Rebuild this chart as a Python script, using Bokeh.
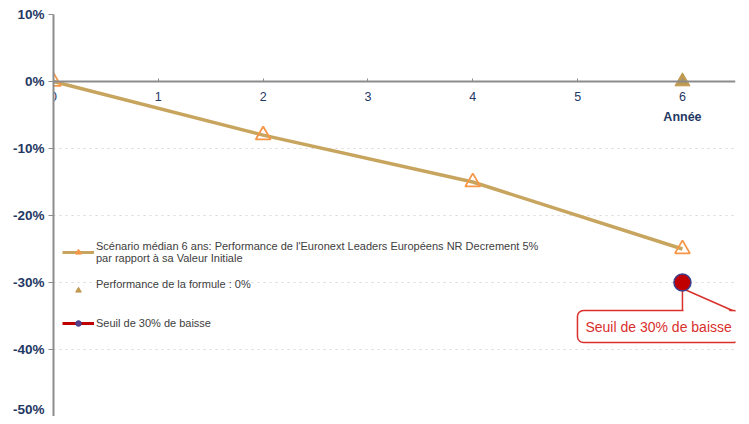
from bokeh.plotting import figure
from bokeh.models import Range1d, LinearAxis, FixedTicker, Legend, LegendItem, Label
from bokeh.embed import file_html
from bokeh.resources import INLINE

# ---- data ----
years = [0, 2, 4, 6]
scenario_perf = [0, -8, -15, -25]
formula_year = [6]
formula_perf = [0]
seuil_year = [6]
seuil_perf = [-30]
x_ticks = [0, 1, 2, 3, 4, 5, 6]
y_ticks = [10, 0, -10, -20, -30, -40, -50]
y_tick_labels = ["10%", "0%", "-10%", "-20%", "-30%", "-40%", "-50%"]
legend_labels = [
    "Scénario médian 6 ans: Performance de l'Euronext Leaders Européens NR Decrement 5%\npar rapport à sa Valeur Initiale",
    "Performance de la formule : 0%\n ",
    "Seuil de 30% de baisse",
]
x_title = "Année"
callout_text = "Seuil de 30% de baisse"

# ---- styles ----
NAVY = "#1F3864"
GOLD = "#C8A55E"
ORANGE = "#F79646"
TAN = "#BF9A50"
RED = "#C00000"
CALLOUT = "#D9302C"
FONT = "Liberation Sans"
NAN = float("nan")

X0, X1 = 0, 6.506
Y0, Y1 = -50, 10
FW, FH = 682, 402

p = figure(width=741, height=416, output_backend="svg", toolbar_location=None,
           x_range=Range1d(X0, X1), y_range=Range1d(Y0, Y1),
           x_axis_location=None,
           min_border_left=53, min_border_right=6, min_border_top=14, min_border_bottom=0)
p.outline_line_color = None
p.background_fill_color = "white"

# y axis
p.yaxis.ticker = FixedTicker(ticks=y_ticks)
p.yaxis.major_label_overrides = {t: l for t, l in zip(y_ticks, y_tick_labels)}
p.yaxis.axis_line_color = "#8C8C8C"
p.yaxis.axis_line_width = 2
p.yaxis.major_tick_line_color = "#8C8C8C"
p.yaxis.major_tick_out = 5
p.yaxis.major_tick_in = 0
p.yaxis.minor_tick_line_color = None
p.yaxis.major_label_text_font = FONT
p.yaxis.major_label_text_font_style = "bold"
p.yaxis.major_label_text_font_size = "13.5px"
p.yaxis.major_label_text_color = NAVY
p.yaxis.major_label_standoff = 4

# grid
p.xgrid.visible = False
p.ygrid.ticker = FixedTicker(ticks=y_ticks)
p.ygrid.grid_line_color = "#D8D8D8"
p.ygrid.grid_line_dash = "dotted"

# x axis crossing at 0
xax = LinearAxis(fixed_location=0, ticker=FixedTicker(ticks=x_ticks))
xax.axis_line_color = "#8C8C8C"
xax.axis_line_width = 2
xax.major_tick_line_color = "#8C8C8C"
xax.major_tick_in = 3
xax.major_tick_out = 0
xax.minor_tick_line_color = None
xax.major_label_text_font = FONT
xax.major_label_text_font_size = "12.5px"
xax.major_label_text_color = NAVY
xax.major_label_standoff = 10
p.add_layout(xax, "below")

p.add_layout(Label(x=formula_year[0], y=formula_perf[0], y_offset=-35, text=x_title,
                   text_align="center", text_baseline="middle", text_font=FONT,
                   text_font_size="12.5px", text_font_style="bold", text_color=NAVY))

# series
p.line(years, scenario_perf, line_color=GOLD, line_width=3.5)
p.scatter(years, scenario_perf, marker="triangle", size=15, fill_alpha=0,
          line_color=ORANGE, line_width=1.8)
p.scatter(formula_year, formula_perf, marker="triangle", size=15, fill_color=TAN,
          line_color=TAN)

# callout
callout = Label(x=seuil_year[0], y=seuil_perf[0], x_offset=-105, y_offset=-28,
                text=callout_text, text_align="left", text_baseline="top",
                text_font=FONT, text_font_size="14px", text_color=CALLOUT,
                background_fill_color="white", border_line_color=CALLOUT,
                border_line_width=1.5, padding=8, border_radius=6)
p.add_layout(callout)

sx = FW / (X1 - X0)
sy = FH / (Y1 - Y0)
cx, cy = seuil_year[0], seuil_perf[0]
tip = (cx, cy - 6 / sy)
bl = (cx, cy - 28 / sy)
br = (cx + 50 / sx, cy - 28 / sy)
cover_l = (cx + 1 / sx, cy - 31 / sy)
cover_r = (cx + 47 / sx, cy - 31 / sy)
p.patch([tip[0], bl[0] + 1 / sx, cover_l[0], cover_r[0], br[0] - 3 / sx],
        [tip[1], bl[1], cover_l[1], cover_r[1], br[1]],
        fill_color="white", line_alpha=0, level="overlay")
p.multi_line([[tip[0], bl[0]], [tip[0], br[0]]], [[tip[1], bl[1]], [tip[1], br[1]]],
             line_color=CALLOUT, line_width=1.5, level="overlay")

p.scatter(seuil_year, seuil_perf, marker="circle", size=17, fill_color=RED,
          line_color="#3A3F8F", line_width=1.5, level="overlay")

# legend proxies (no visible data)
l1 = p.line([NAN], [NAN], line_color=GOLD, line_width=3)
s1 = p.scatter([NAN], [NAN], marker="triangle", size=7, fill_color=ORANGE, line_color=ORANGE)
s2 = p.scatter([NAN], [NAN], marker="triangle", size=8, fill_color=TAN, line_color=TAN)
l3 = p.line([NAN], [NAN], line_color=RED, line_width=3)
s3 = p.scatter([NAN], [NAN], marker="circle", size=7, fill_color="#5A3F8A", line_color="#3A3F8F")

legend = Legend(items=[
    LegendItem(label=legend_labels[0], renderers=[l1, s1]),
    LegendItem(label=legend_labels[1], renderers=[s2]),
    LegendItem(label=legend_labels[2], renderers=[l3, s3]),
], location=(9, 86), background_fill_alpha=0, border_line_alpha=0,
    label_text_font=FONT, label_text_font_size="11px", label_text_color="#404040",
    glyph_width=32, glyph_height=14, spacing=14, padding=0, margin=0, label_standoff=2,
    label_height=14)
p.add_layout(legend)

open("out.html", "w").write(file_html(p, INLINE))
